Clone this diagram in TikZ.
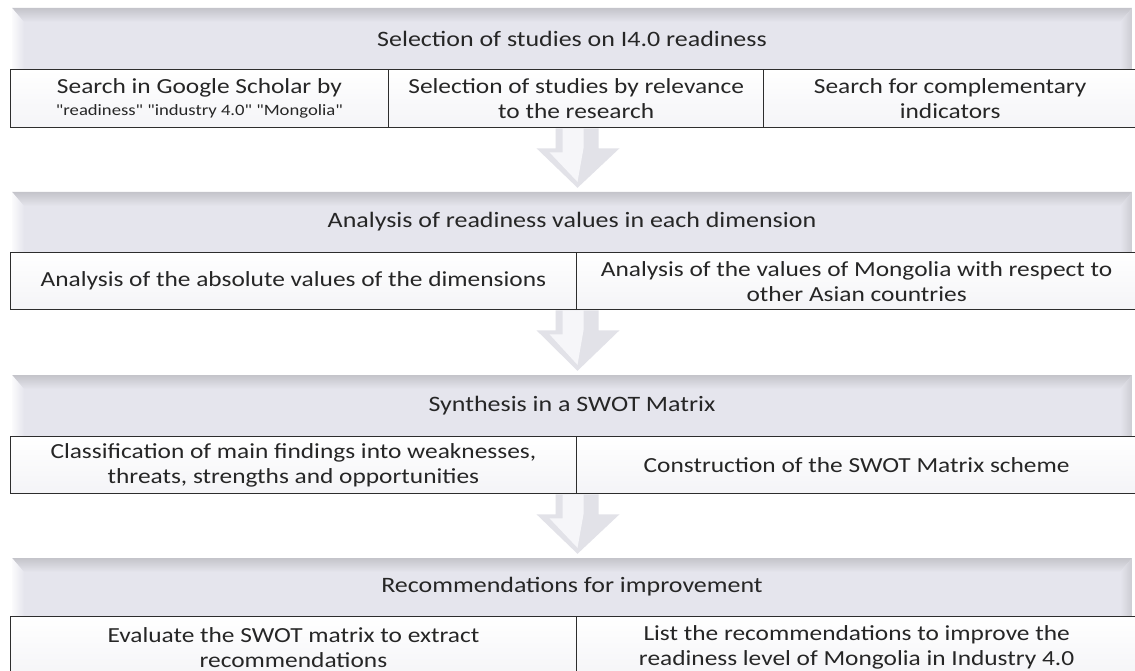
\documentclass[tikz,border=0pt]{standalone}
\usepackage{fontspec}
\setmainfont{Carlito}[Ligatures=TeXOff, FakeStretch=1.18]
\usetikzlibrary{calc}
\definecolor{hdr}{RGB}{229,229,237}
\definecolor{hdrtop}{RGB}{196,196,202}
\definecolor{hdrright}{RGB}{204,204,210}
\definecolor{boxline}{RGB}{45,45,45}
\definecolor{txt}{RGB}{38,38,38}
\definecolor{arrbase}{RGB}{226,226,232}
\definecolor{arrlight}{RGB}{246,246,249}
\newcommand\smalltxtfont{\fontsize{15.8}{18}\selectfont}
\tikzset{
  hdrbox/.style={minimum width=1120pt, minimum height=61pt, inner sep=0pt,
    text=txt, font=\fontsize{22}{26}\selectfont,
    path picture={
      \fill[hdr] (path picture bounding box.north west) rectangle (path picture bounding box.south east);
      \shade[top color=hdrtop, bottom color=hdr]
        (path picture bounding box.north west) -- (path picture bounding box.north east)
        -- ([xshift=-12pt,yshift=-14pt]path picture bounding box.north east)
        -- ([xshift=12pt,yshift=-14pt]path picture bounding box.north west) -- cycle;
      \shade[left color=white!85!hdr, right color=hdr]
        (path picture bounding box.north west) -- ([xshift=12pt,yshift=-14pt]path picture bounding box.north west)
        -- ([xshift=12pt]path picture bounding box.south west) -- (path picture bounding box.south west) -- cycle;
      \shade[left color=hdr, right color=hdrright]
        (path picture bounding box.north east) -- (path picture bounding box.south east)
        -- ([xshift=-12pt]path picture bounding box.south east)
        -- ([xshift=-12pt,yshift=-14pt]path picture bounding box.north east) -- cycle;
    }},
  subbox/.style={draw=boxline, line width=1.3pt, anchor=north west, inner sep=0pt,
    top color=white, bottom color={rgb,255:red,244;green,244;blue,247},
    text=txt, align=center, font=\fontsize{21.5}{25}\selectfont},
  arrowbody/.style={fill=arrbase},
  arrowlight/.style={fill=arrlight}
}
\newcommand\flowarrow[2]{%
  \path[arrowbody] ([xshift=-22pt]#1) -- ([xshift=21pt]#1) -- ([xshift=21pt,yshift=-20pt]#1)
    -- ([xshift=42pt,yshift=-20pt]#1) -- ([yshift=4pt]#2) -- ([xshift=-41pt,yshift=-20pt]#1)
    -- ([xshift=-22pt,yshift=-20pt]#1) -- cycle;
  \path[arrowlight] ([xshift=-15pt]#1) -- ([xshift=6pt]#1) -- ([xshift=6pt,yshift=-20pt]#1)
    -- ([yshift=10pt]#2) -- ([xshift=-28pt,yshift=-24pt]#1) -- ([xshift=-15pt,yshift=-24pt]#1) -- cycle;}
\begin{document}
\begin{tikzpicture}[x=1pt,y=-1pt]
\useasboundingbox[fill=white] (0,0) rectangle (1135,671);
\coordinate (ax) at (577.5,0);
% band 1
\node[hdrbox] (h1) at (572,38.5) {Selection of studies on I4.0 readiness};
\node[subbox, minimum width=378.5pt, minimum height=58pt] (s1a) at (9.5,69)
  {Search in Google Scholar by\\[-3pt]{\smalltxtfont "readiness" "industry 4.0" "Mongolia"}};
\node[subbox, minimum width=375pt, minimum height=58pt] (s1b) at (388,69)
  {Selection of studies by relevance\\to the research};
\node[subbox, minimum width=373pt, minimum height=58pt] (s1c) at (763,69)
  {Search for complementary\\indicators};
% band 2
\node[hdrbox, minimum height=60pt] (h2) at (572,222) {Analysis of readiness values in each dimension};
\node[subbox, minimum width=566.5pt, minimum height=57pt] (s2a) at (9.5,252)
  {Analysis of the absolute values of the dimensions};
\node[subbox, minimum width=560pt, minimum height=57pt] (s2b) at (576,252)
  {Analysis of the values of Mongolia with respect to\\other Asian countries};
% band 3
\node[hdrbox] (h3) at (572,405.5) {Synthesis in a SWOT Matrix};
\node[subbox, minimum width=566.5pt, minimum height=57pt] (s3a) at (9.5,436)
  {Classification of main findings into weaknesses,\\threats, strengths and opportunities};
\node[subbox, minimum width=560pt, minimum height=57pt] (s3b) at (576,436)
  {Construction of the SWOT Matrix scheme};
% band 4
\node[hdrbox, minimum height=58pt] (h4) at (572,587) {Recommendations for improvement};
\node[subbox, minimum width=566.5pt, minimum height=62pt] (s4a) at (9.5,616)
  {Evaluate the SWOT matrix to extract\\recommendations};
\node[subbox, minimum width=560pt, minimum height=62pt] (s4b) at (576,616)
  {List the recommendations to improve the\\readiness level of Mongolia in Industry 4.0};
% arrows
\path (ax |- s1b.south) coordinate (a1t) (ax |- h2.north) coordinate (a1b);
\path (ax |- s2b.south) coordinate (a2t) (ax |- h3.north) coordinate (a2b);
\path (ax |- s3b.south) coordinate (a3t) (ax |- h4.north) coordinate (a3b);
\flowarrow{a1t}{a1b}
\flowarrow{a2t}{a2b}
\flowarrow{a3t}{a3b}
\end{tikzpicture}
\end{document}
